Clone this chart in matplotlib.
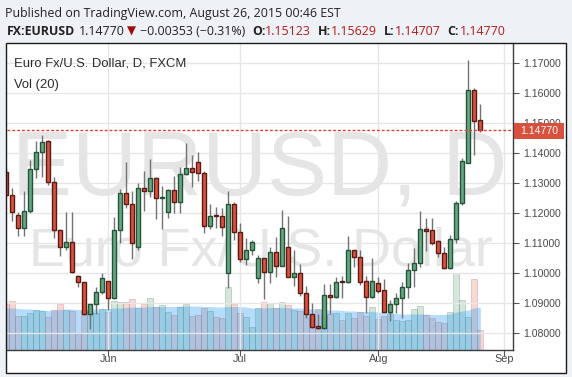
import numpy as np
import pandas as pd
import matplotlib
matplotlib.use("Agg")
import matplotlib.pyplot as plt
from matplotlib.patches import Rectangle
from matplotlib.transforms import Bbox, TransformedBbox

# ---------------- data ----------------
dates = pd.bdate_range("2015-05-07", "2015-08-26")

opens = [1.1339, 1.1261, 1.1194, 1.1150, 1.1208, 1.1347, 1.1403, 1.1441, 1.1306, 1.1144,
         1.1087, 1.1103, 1.0992, 1.0970, 1.0863, 1.0897, 1.0939, 1.0974, 1.0917, 1.1144,
         1.1267, 1.1231, 1.1089, 1.1283, 1.1276, 1.1317, 1.1250, 1.1203, 1.1278, 1.1239,
         1.1331, 1.1350, 1.1370, 1.1333, 1.1159, 1.1193, 1.1190, 1.1000, 1.1230, 1.1137,
         1.1047, 1.1078, 1.0983, 1.1050, 1.1003, 1.1070, 1.1026, 1.1087, 1.0989, 1.1000,
         1.0933, 1.0863, 1.0824, 1.0817, 1.0927, 1.0920, 1.0974, 1.0972, 1.1077, 1.1053,
         1.0974, 1.0922, 1.0967, 1.0944, 1.0872, 1.0897, 1.0917, 1.0956, 1.1011, 1.1033,
         1.1147, 1.1144, 1.1109, 1.1069, 1.1017, 1.1113, 1.1233, 1.1369, 1.1611, 1.15123]
highs = [1.1350, 1.1283, 1.1205, 1.1274, 1.1378, 1.1441, 1.1461, 1.1444, 1.1322, 1.1146,
         1.1203, 1.1206, 1.0993, 1.0971, 1.0898, 1.0956, 1.1000, 1.0975, 1.1187, 1.1280,
         1.1372, 1.1274, 1.1300, 1.1341, 1.1381, 1.1320, 1.1291, 1.1280, 1.1324, 1.1356,
         1.1433, 1.1394, 1.1406, 1.1341, 1.1231, 1.1220, 1.1217, 1.1274, 1.1239, 1.1167,
         1.1117, 1.1111, 1.1061, 1.1050, 1.1087, 1.1120, 1.1211, 1.1191, 1.1078, 1.1030,
         1.0958, 1.0900, 1.0864, 1.0963, 1.0963, 1.0989, 1.0991, 1.1124, 1.1077, 1.1078,
         1.0991, 1.1052, 1.0989, 1.0981, 1.0911, 1.0933, 1.0972, 1.1036, 1.1083, 1.1208,
         1.1183, 1.1183, 1.1112, 1.1089, 1.1128, 1.1241, 1.1383, 1.1711, 1.1617, 1.15629]
lows = [1.1255, 1.1176, 1.1124, 1.1124, 1.1200, 1.1317, 1.1322, 1.1294, 1.1117, 1.1058,
        1.1078, 1.1000, 1.0956, 1.0861, 1.0814, 1.0863, 1.0930, 1.0878, 1.0916, 1.1100,
        1.1219, 1.1047, 1.1078, 1.1208, 1.1253, 1.1180, 1.1147, 1.1186, 1.1202, 1.1200,
        1.1329, 1.1289, 1.1309, 1.1133, 1.1148, 1.1150, 1.1124, 1.0950, 1.1111, 1.1039,
        1.1028, 1.1061, 1.0967, 1.0913, 1.0969, 1.0987, 1.1025, 1.0988, 1.0958, 1.0924,
        1.0850, 1.0819, 1.0813, 1.0815, 1.0864, 1.0917, 1.0917, 1.0967, 1.1020, 1.0961,
        1.0867, 1.0917, 1.0936, 1.0871, 1.0842, 1.0867, 1.0850, 1.0919, 1.0956, 1.1022,
        1.1076, 1.1094, 1.1056, 1.1013, 1.1013, 1.1102, 1.1228, 1.1367, 1.1394, 1.14707]
closes = [1.1261, 1.1203, 1.1150, 1.1208, 1.1347, 1.1403, 1.1437, 1.1306, 1.1144, 1.1087,
          1.1103, 1.1003, 1.0970, 1.0863, 1.0897, 1.0939, 1.0983, 1.0917, 1.1144, 1.1267,
          1.1230, 1.1102, 1.1283, 1.1276, 1.1317, 1.1250, 1.1256, 1.1278, 1.1239, 1.1331,
          1.1350, 1.1339, 1.1333, 1.1159, 1.1192, 1.1190, 1.1153, 1.1230, 1.1137, 1.1047,
          1.1078, 1.1103, 1.1050, 1.1003, 1.1070, 1.1026, 1.1150, 1.0989, 1.1000, 1.0933,
          1.0863, 1.0820, 1.0817, 1.0927, 1.0920, 1.0972, 1.0970, 1.1077, 1.1053, 1.0972,
          1.0922, 1.0974, 1.0942, 1.0872, 1.0897, 1.0917, 1.0956, 1.1011, 1.1033, 1.1147,
          1.1142, 1.1100, 1.1069, 1.1017, 1.1113, 1.1233, 1.1376, 1.1611, 1.1508, 1.14770]
volumes = [46, 49, 34, 34, 37, 40, 39, 33, 40, 46,
           40, 39, 16, 40, 38, 37, 41, 38, 49, 48,
           48, 51, 42, 46, 52, 43, 45, 38, 35, 43,
           46, 34, 35, 42, 39, 33, 32, 63, 46, 37,
           33, 23, 42, 48, 47, 42, 48, 45, 40, 39,
           37, 33, 41, 35, 36, 37, 30, 37, 32, 38,
           34, 43, 31, 34, 37, 30, 29, 30, 41, 44,
           35, 32, 28, 27, 38, 77, 50, 33, 71, 20]
vol_ma = [42, 42, 41.5, 41, 41, 40.5, 40, 39.5, 40, 40.5,
          41, 41, 40.5, 40.5, 41, 41, 41.5, 41.5, 42, 42,
          42.5, 43, 43, 43, 43.5, 43.5, 43.5, 43.5, 43.5, 44,
          44, 44, 44, 43.5, 43.5, 43, 43, 43.5, 43.5, 43.5,
          43, 42, 42, 42, 42.5, 42.5, 42.5, 42.5, 42, 42,
          41.5, 41, 41, 40.5, 40, 40, 39.5, 39, 39, 38.5,
          38.5, 38.5, 38, 37.5, 37, 36.5, 36, 36, 36, 36,
          36, 35.5, 35.5, 35.5, 36, 38, 39, 40, 42, 43]
price_ticks = [1.08, 1.09, 1.10, 1.11, 1.12, 1.13, 1.14, 1.15, 1.16, 1.17]
month_labels = ["Jun", "Jul", "Aug", "Sep"]
month_starts = ["2015-06-01", "2015-07-01", "2015-08-03", "2015-09-01"]
last_price = 1.14770

# ---------------- layout helpers ----------------
W, H = 572, 377
BG = "#eef1f5"
fig = plt.figure(figsize=(W / 100, H / 100), dpi=100, facecolor=BG)


def fx(px):
    return px / W


def fy(py):
    return 1 - py / H


SANS = ["Liberation Sans", "DejaVu Sans"]
HEAD = ["Open Sans", "DejaVu Sans"]

# white chart frame
fig.patches.append(Rectangle((fx(6), fy(373)), fx(566) - fx(6), fy(43) - fy(373),
                             transform=fig.transFigure, facecolor="white",
                             edgecolor="none", zorder=-5))
fig.patches.append(Rectangle((fx(6), fy(373)), fx(566) - fx(6), fy(43) - fy(373),
                             transform=fig.transFigure, facecolor="none",
                             edgecolor="#1a1a1a", lw=1.0, zorder=10))

L, R, T, B = 7, 513, 43, 350
pos = [fx(L), fy(B), (R - L) / W, (B - T) / H]

x = np.array([np.busday_count("2015-05-07", d.strftime("%Y-%m-%d")) for d in dates])
xm = np.busday_count("2015-05-07", month_starts)
o = np.array(opens); h = np.array(highs); lo = np.array(lows); c = np.array(closes)
up = c >= o

xlim = (0.12, 84.45)
ylim = (1.07444, 1.17677)

# ---------------- volume axes (bottom layer) ----------------
axv = fig.add_axes(pos, zorder=0)
axv.set_facecolor("white")
axv.set_xlim(*xlim)
axv.set_ylim(0, 307)
axv.axis("off")

# watermark
axv.text(fx(260), fy(195), "EURUSD, D", transform=fig.transFigure, ha="center",
         va="baseline", fontsize=64.8, family=SANS, color="#e5e5e5", zorder=0.2)
axv.text(fx(261), fy(266), "Euro Fx/U.S. Dollar", transform=fig.transFigure, ha="center",
         va="baseline", fontsize=38.8, family=SANS, color="#e5e5e5", zorder=0.2)

vcol = [(107 / 255, 165 / 255, 131 / 255, 0.27) if u else (215 / 255, 84 / 255, 66 / 255, 0.22)
        for u in up]
vedge = [(80 / 255, 140 / 255, 105 / 255, 0.35) if u else (190 / 255, 80 / 255, 70 / 255, 0.3)
         for u in up]
axv.bar(x, volumes, width=1.0, color=vcol, edgecolor=vedge, linewidth=0.6, zorder=1)
axv.fill_between(x, 0, vol_ma, color="#2196f3", alpha=0.33, lw=0, zorder=2)

# ---------------- price axes ----------------
ax = fig.add_axes(pos, zorder=1)
ax.patch.set_visible(False)
ax.set_xlim(*xlim)
ax.set_ylim(*ylim)
ax.set_axisbelow(True)
ax.grid(True, color="#e6e6e6", lw=1)
for s in ["top", "left"]:
    ax.spines[s].set_visible(False)
for s in ["right", "bottom"]:
    ax.spines[s].set_color("#3c3c3c")
    ax.spines[s].set_linewidth(1)

ax.yaxis.tick_right()
ax.set_yticks(price_ticks)
ax.set_yticklabels([f"{v:.5f}" for v in price_ticks])
ax.tick_params(axis="y", length=4, width=0.8, color="#555555", pad=3,
               labelsize=7.6, labelcolor="#4a4a4a")
for lbl in ax.get_yticklabels():
    lbl.set_family(SANS)

ax.set_xticks(xm)
ax.set_xticklabels([])
ax.tick_params(axis="x", length=4, width=0.8, color="#555555")
clipbox = TransformedBbox(Bbox([[0, -1], [1, 1]]), ax.transAxes)
for xi, lab in zip(xm, month_labels):
    t = ax.text(xi, -0.012, lab, transform=ax.get_xaxis_transform(), ha="center",
                va="top", fontsize=7.8, family=SANS, color="#4a4a4a", clip_on=True)
    t.set_clip_box(clipbox)

# candles
wick_col = "#737373"
ax.vlines(x, lo, h, color=wick_col, lw=1, zorder=2)
body_bottom = np.minimum(o, c)
body_h = np.abs(c - o)
fill = np.where(up, "#6ba583", "#d75442")
edge = np.where(up, "#225437", "#5b1a13")
ax.bar(x, body_h, bottom=body_bottom, width=0.66, color=fill, edgecolor=edge,
       linewidth=1, zorder=3)

# current price line
ax.axhline(last_price, color="#e0412f", lw=1, ls=(0, (2, 1.5)), zorder=4)

# legend texts
ax.text(fx(14), fy(66), "Euro Fx/U.S. Dollar, D, FXCM", transform=fig.transFigure,
        fontsize=9.4, family=SANS, color="#2c2c2c", va="baseline", zorder=6)
ax.text(fx(14), fy(88), "Vol (20)", transform=fig.transFigure,
        fontsize=9.4, family=SANS, color="#2c2c2c", va="baseline", zorder=6)

# price label box
fig.patches.append(Rectangle((fx(513.5), fy(139)), fx(563.5) - fx(513.5), fy(123) - fy(139),
                             transform=fig.transFigure, facecolor="#d9503e",
                             edgecolor="none", zorder=8))
fig.text(fx(520.5), fy(131), f"{last_price:.5f}", ha="left", va="center", fontsize=7.6,
         family=SANS, color="white", zorder=9)

# ---------------- header ----------------
renderer = fig.canvas.get_renderer()
head = fig.text(fx(5), fy(16.5), "Published on TradingView.com, August 26, 2015 00:46 EST",
                fontsize=9, family=HEAD, color="#222222", va="baseline")
w = head.get_window_extent(renderer).width
fs = 9 * (343 - 5) / w
head.set_fontsize(fs)

red = "#b51c1c"
pieces = [
    (7, "FX:EURUSD", "bold", "#222222"),
    (79, "1.14770", "normal", "#222222"),
    (140.5, "\u22120.00353 (\u22120.31%)", "normal", "#222222"),
    (252, "O:", "bold", "#222222"),
    (265, "1.15123", "normal", red),
    (318, "H:", "bold", "#222222"),
    (331, "1.15629", "normal", red),
    (384, "L:", "bold", "#222222"),
    (395, "1.14707", "normal", red),
    (447, "C:", "bold", "#222222"),
    (460, "1.14770", "normal", red),
]
for px, s, wt, col in pieces:
    fig.text(fx(px), fy(35), s, fontsize=fs, family=HEAD, weight=wt, color=col,
             va="baseline")
fig.text(fx(127), fy(35), "\u25bc", fontsize=fs * 0.95, family=["DejaVu Sans"],
         color="#9e0e0e", va="baseline")

fig.savefig("out.png", dpi=100, facecolor=BG)
